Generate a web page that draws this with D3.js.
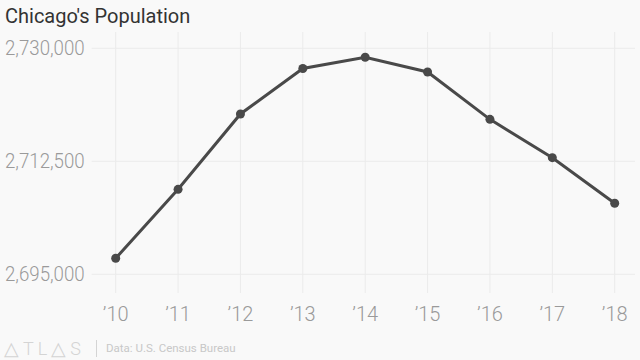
<!DOCTYPE html>
<html>
<head>
<meta charset="utf-8">
<script src="https://cdn.jsdelivr.net/npm/d3@7"></script>
<style>
  html, body { margin: 0; padding: 0; background: #f9f9f9; }
  svg { display: block; font-family: Roboto, "Noto Sans", sans-serif; }
</style>
</head>
<body>
<div id="chart"></div>
<script>
// Data
const years = ["2010", "2011", "2012", "2013", "2014", "2015", "2016", "2017", "2018"];
const yearLabels = ["\u201910", "\u201911", "\u201912", "\u201913", "\u201914", "\u201915", "\u201916", "\u201917", "\u201918"];
const population = [2697480, 2708160, 2719830, 2726870, 2728610, 2726330, 2719000, 2713060, 2706000];
const yTicks = [2695000, 2712500, 2730000];
const title = "Chicago's Population";
const source = "Data: U.S. Census Bureau";

// Chart setup
const width = 640, height = 360;

const svg = d3.select("#chart")
    .append("svg")
    .attr("width", width)
    .attr("height", height);

svg.append("rect")
    .attr("width", width)
    .attr("height", height)
    .attr("fill", "#f9f9f9");

// Scales
const x = d3.scalePoint()
    .domain(years)
    .range([115.7, 614.7]);

const y = d3.scaleLinear()
    .domain([2695000, 2730000])
    .range([274.3, 48.3]);

// Title
svg.append("text")
    .attr("x", 5)
    .attr("y", 23)
    .attr("font-size", 20)
    .attr("fill", "#333")
    .text(title);

// Vertical grid lines
svg.append("g")
    .selectAll("line")
    .data(years)
    .enter()
    .append("line")
    .attr("x1", d => x(d))
    .attr("x2", d => x(d))
    .attr("y1", 32)
    .attr("y2", 293)
    .attr("stroke", "#ebebeb")
    .attr("stroke-width", 1);

// Y axis labels + horizontal grid lines
const yAxis = svg.append("g");
yTicks.forEach(t => {
    const label = yAxis.append("text")
        .attr("transform", `translate(5,${y(t) + 7}) scale(0.89,1)`)
        .attr("font-size", 21)
        .attr("font-weight", 300)
        .attr("fill", "#9a9a9a")
        .text(d3.format(",")(t));
    const w = label.node().getComputedTextLength() * 0.89;
    yAxis.insert("line", "text")
        .attr("x1", 5 + w + 7)
        .attr("x2", 635)
        .attr("y1", y(t))
        .attr("y2", y(t))
        .attr("stroke", "#ebebeb")
        .attr("stroke-width", 1);
});

// X axis labels
svg.append("g")
    .selectAll("text")
    .data(years)
    .enter()
    .append("text")
    .attr("x", d => x(d))
    .attr("y", 321)
    .attr("text-anchor", "middle")
    .attr("font-size", 20)
    .attr("font-weight", 300)
    .attr("fill", "#9a9a9a")
    .text((d, i) => yearLabels[i]);

// Line
const points = years.map((d, i) => ({ year: d, value: population[i] }));

svg.append("path")
    .datum(points)
    .attr("fill", "none")
    .attr("stroke", "#494949")
    .attr("stroke-width", 3)
    .attr("d", d3.line()
        .x(d => x(d.year))
        .y(d => y(d.value))
    );

svg.selectAll("circle.dot")
    .data(points)
    .enter()
    .append("circle")
    .attr("class", "dot")
    .attr("cx", d => x(d.year))
    .attr("cy", d => y(d.value))
    .attr("r", 4.5)
    .attr("fill", "#494949");

// Footer
const logo = svg.append("text")
    .attr("x", 4)
    .attr("y", 355)
    .attr("font-size", 18)
    .attr("font-weight", 300)
    .attr("fill", "#d4d4d4")
    .attr("letter-spacing", 4);
logo.append("tspan").attr("font-family", "DejaVu Sans").attr("font-size", 19).text("\u25B3");
logo.append("tspan").text("TL");
logo.append("tspan").attr("font-family", "DejaVu Sans").attr("font-size", 19).text("\u25B3");
logo.append("tspan").text("S");

svg.append("line")
    .attr("x1", 96.5)
    .attr("x2", 96.5)
    .attr("y1", 340)
    .attr("y2", 357)
    .attr("stroke", "#d4d4d4")
    .attr("stroke-width", 1);

svg.append("text")
    .attr("x", 106)
    .attr("y", 352)
    .attr("font-size", 11.5)
    .attr("fill", "#c8c8c8")
    .text(source);
</script>
</body>
</html>
